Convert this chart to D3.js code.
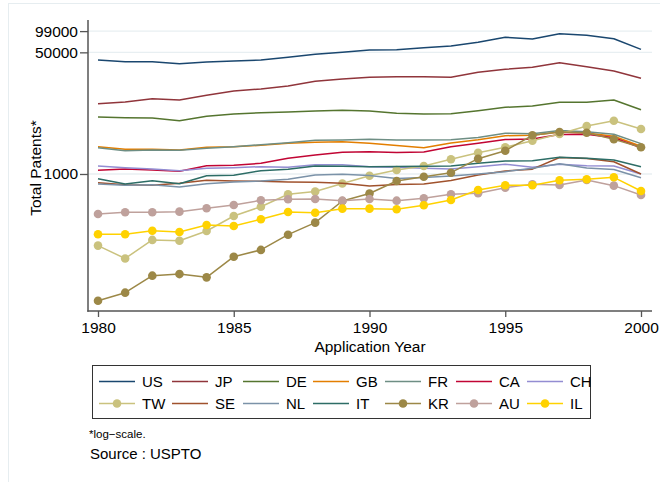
<!DOCTYPE html>
<html><head><meta charset="utf-8">
<script src="https://cdn.jsdelivr.net/npm/d3@7"></script>
<style>
body{margin:0;background:#fff}
svg{display:block;font-family:"Liberation Sans",Arial,Helvetica,sans-serif}
</style>
</head><body><svg id="c" width="660" height="482"></svg>
<script>
// ---- data (patents per application year) ----
const years = [1980,1981,1982,1983,1984,1985,1986,1987,1988,1989,1990,1991,1992,1993,1994,1995,1996,1997,1998,1999,2000];
const US = [39100,37000,37000,34700,36600,37800,39100,42600,47000,50100,53900,54400,58100,61300,69100,81200,76800,91100,86500,77600,55100];
const JP = [9590,10130,11270,10800,12570,14430,15390,16950,19710,21220,22410,22860,22860,22410,26330,28990,30920,35850,31520,27450,21710];
const DE = [6252,6113,6055,5552,6395,6887,7180,7345,7585,7757,7585,7042,6887,6952,7657,8542,8907,10032,10032,10800,7907];
const GB = [2406,2213,2213,2164,2360,2406,2516,2684,2772,2826,2684,2500,2329,2710,3004,3427,3471,3860,3738,3361,2437];
const FR = [2329,2115,2164,2143,2285,2406,2566,2736,2956,2985,3053,2985,2975,3004,3234,3714,3654,4038,3885,3584,2658];
const CA = [1126,1174,1137,1091,1306,1323,1411,1657,1842,2010,2049,1997,2029,2398,2693,3023,3082,3573,3596,3203,2322];
const CH = [1293,1225,1174,1112,1201,1225,1265,1240,1349,1349,1265,1240,1201,1174,1265,1366,1240,1366,1306,1293,1000];
const TW = [100,66,120,117,160,259,349,522,569,737,947,1137,1293,1604,1984,2360,2918,3620,4682,5552,4251];
const SE = [756,709,695,741,817,798,791,773,766,741,680,714,725,811,968,1101,1167,1700,1647,1485,1000];
const NL = [725,695,709,658,732,773,798,843,968,994,953,865,894,938,1000,1077,1201,1388,1213,1156,885];
const IT = [860,725,806,732,947,959,1112,1163,1293,1281,1265,1273,1281,1293,1411,1519,1534,1711,1663,1569,1265];
const KR = [17,22,38,40,36,70,87,142,209,420,534,798,917,1043,1636,2115,3471,3860,3774,3053,2360];
const AU = [276,292,292,298,332,369,429,443,448,424,448,424,458,521,538,644,718,702,825,687,509];
const IL = [144,144,161,155,194,188,233,295,288,328,328,321,366,434,598,695,695,817,843,899,579];

const countries = ["US","JP","DE","GB","FR","CA","CH","TW","SE","NL","IT","KR","AU","IL"];
const seriesValues = {US,JP,DE,GB,FR,CA,CH,TW,SE,NL,IT,KR,AU,IL};
const withMarkers = ["TW","KR","AU","IL"];
const yTicks = [1000, 50000, 99000];
const xTicks = [1980, 1985, 1990, 1995, 2000];
const yTitle = "Total Patents*";
const xTitle = "Application Year";
const note = "*log\u2212scale.";
const source = "Source : USPTO";

// ---- styles ----
const colors = {US:"#1a476f",JP:"#90353b",DE:"#55752f",GB:"#e37e00",FR:"#6e8e84",CA:"#c10534",CH:"#938dd2",
  TW:"#cac27e",SE:"#a0522d",NL:"#7b92a8",IT:"#2d6d66",KR:"#9c8847",AU:"#bfa19c",IL:"#ffd200"};

const svg = d3.select("#c");
const L = 88, R = 652, T = 20, B = 311;

// outer faint frame
svg.append("rect").attr("x",8.5).attr("y",3.5).attr("width",700).attr("height",600)
  .attr("fill","none").attr("stroke","#e6edf0").attr("stroke-width",1);

const x = d3.scaleLinear().domain([1980,2000]).range([98,641]);
const y = d3.scaleLog().domain([12.2,141500]).range([B,T]);

// gridlines
svg.append("g").selectAll("line").data(yTicks).join("line")
  .attr("x1",L).attr("x2",R).attr("y1",d=>y(d)).attr("y2",d=>y(d))
  .attr("stroke","#e8eff2").attr("stroke-width",1.3);

// axes
const yAxis = svg.append("g").attr("transform",`translate(${L},0)`)
  .call(d3.axisLeft(y).tickValues(yTicks).tickFormat(d3.format("d")).tickSize(8).tickPadding(2).tickSizeOuter(0));
yAxis.select(".domain").remove();
yAxis.selectAll("line").attr("stroke","#555").attr("stroke-width",1.3);
yAxis.selectAll("text").attr("font-size",15.5).attr("fill","#000").attr("font-family",null);

const xAxis = svg.append("g").attr("transform",`translate(0,${B})`)
  .call(d3.axisBottom(x).tickValues(xTicks).tickFormat(d3.format("d")).tickSize(6).tickPadding(5).tickSizeOuter(0));
xAxis.select(".domain").remove();
xAxis.selectAll("line").attr("stroke","#555").attr("stroke-width",1.3);
xAxis.selectAll("text").attr("font-size",15.5).attr("fill","#000").attr("font-family",null);

svg.append("line").attr("x1",L).attr("x2",L).attr("y1",T).attr("y2",B+0.7).attr("stroke","#555").attr("stroke-width",1.5);
svg.append("line").attr("x1",L-0.7).attr("x2",R).attr("y1",B).attr("y2",B).attr("stroke","#555").attr("stroke-width",1.5);

// axis titles
svg.append("text").attr("transform",`translate(41,168) rotate(-90)`).attr("text-anchor","middle")
  .attr("font-size",15.5).text(yTitle);
svg.append("text").attr("x",370).attr("y",352).attr("text-anchor","middle").attr("font-size",15.5).text(xTitle);

// lines & markers
const line = d3.line().x((d,i)=>x(years[i])).y(d=>y(d));
countries.forEach(c=>{
  const vals = seriesValues[c];
  svg.append("path").datum(vals).attr("d",line).attr("fill","none")
    .attr("stroke",colors[c]).attr("stroke-width",1.5).attr("stroke-linejoin","round");
  if (withMarkers.includes(c)) {
    svg.append("g").selectAll("circle").data(vals).join("circle")
      .attr("cx",(d,i)=>x(years[i])).attr("cy",d=>y(d)).attr("r",4.3).attr("fill",colors[c]);
  }
});

// legend
svg.append("rect").attr("x",92.5).attr("y",365.5).attr("width",498).attr("height",53)
  .attr("fill","#fff").attr("stroke","#333").attr("stroke-width",1);
const colX = [99,172,243,313,385,456,527];
const rowY = [381.5,403.5];
countries.forEach((c,i)=>{
  const cx = colX[i%7], cy = rowY[Math.floor(i/7)];
  const g = svg.append("g");
  g.append("line").attr("x1",cx).attr("x2",cx+36).attr("y1",cy).attr("y2",cy)
    .attr("stroke",colors[c]).attr("stroke-width",1.5);
  if (withMarkers.includes(c)) g.append("circle").attr("cx",cx+18).attr("cy",cy).attr("r",4.3).attr("fill",colors[c]);
  g.append("text").attr("x",cx+43).attr("y",cy+5.5).attr("font-size",15).text(c);
});

svg.append("text").attr("x",89).attr("y",438).attr("font-size",11.5).text(note);
svg.append("text").attr("x",90).attr("y",459).attr("font-size",15).text(source);
</script>
</body></html>
